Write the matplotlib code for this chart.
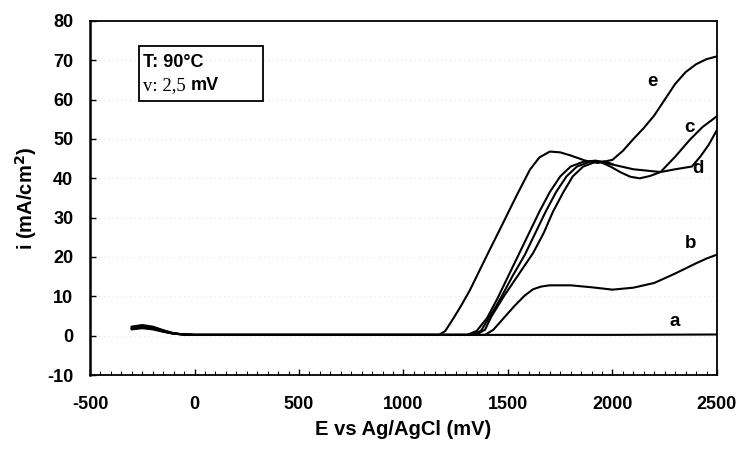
import matplotlib
matplotlib.use("Agg")
import matplotlib.pyplot as plt
from matplotlib.patches import Rectangle
from matplotlib.ticker import MultipleLocator

plt.rcParams["axes.unicode_minus"] = False

# potential (mV vs Ag/AgCl) and current density (mA/cm2)
E_a = [-300, -250, -200, -150, -100, -50, 0, 500, 1000, 1500, 2000, 2500]
i_a = [1.6, 1.9, 1.6, 1.0, 0.5, 0.3, 0.2, 0.2, 0.2, 0.2, 0.2, 0.3]

E_b = [-300, -250, -200, -150, -100, -50, 0, 1000, 1390, 1430, 1480, 1530, 1580,
       1620, 1660, 1700, 1800, 1900, 2000, 2100, 2200, 2300, 2400, 2450, 2500]
i_b = [2.3, 2.7, 2.3, 1.4, 0.6, 0.3, 0.2, 0.2, 0.2, 1.5, 4.5, 7.5, 10.2,
       11.8, 12.5, 12.8, 12.8, 12.3, 11.7, 12.2, 13.4, 15.8, 18.4, 19.6, 20.6]

E_c = [-300, -250, -200, -150, -100, -50, 0, 1000, 1305, 1350, 1400, 1450, 1500,
       1550, 1600, 1650, 1700, 1750, 1800, 1860, 1920, 2000, 2100, 2230, 2300,
       2370, 2430, 2500]
i_c = [1.9, 2.3, 1.9, 1.2, 0.6, 0.3, 0.2, 0.2, 0.2, 1.2, 4.5, 9.5, 15,
       20.5, 26, 31.5, 36.5, 40.5, 43, 44.2, 44.5, 43.5, 42.3, 41.6, 45.5,
       49.8, 53, 55.8]

E_d = [-300, -250, -200, -150, -100, -50, 0, 1000, 1325, 1370, 1415, 1470, 1520,
       1580, 1630, 1680, 1730, 1780, 1830, 1890, 1940, 1990, 2040, 2085, 2130,
       2180, 2230, 2300, 2380, 2420, 2460, 2500]
i_d = [1.7, 2.1, 1.8, 1.1, 0.5, 0.3, 0.2, 0.2, 0.2, 1.2, 5, 10, 15,
       20.5, 26, 31.5, 36.5, 40.5, 43, 44.2, 44.2, 43, 41.5, 40.4, 40,
       40.6, 41.6, 42.3, 43, 45.5, 48.5, 52.3]

# third parallel trace (no label in the original), merges with c near 2000 mV
E_f = [-300, -250, -200, -150, -100, -50, 0, 1000, 1345, 1390, 1420, 1480, 1550,
       1620, 1670, 1715, 1765, 1810, 1860, 1920, 1960, 2000]
i_f = [2.1, 2.5, 2.1, 1.3, 0.6, 0.3, 0.2, 0.2, 0.2, 1.5, 4.8, 10, 15.5,
       21, 26, 31.5, 36.5, 40.5, 43, 44.2, 44.3, 43.6]

E_e = [-300, -250, -200, -150, -100, -50, 0, 1000, 1170, 1200, 1240, 1280, 1318,
       1400, 1476, 1540, 1605, 1650, 1700, 1750, 1800, 1870, 1930, 2000, 2050,
       2100, 2150, 2200, 2250, 2300, 2350, 2400, 2450, 2500]
i_e = [1.8, 2.2, 1.8, 1.1, 0.5, 0.3, 0.2, 0.2, 0.2, 1.2, 4.5, 8, 11.6,
       20.5, 28.6, 35.5, 42.2, 45.3, 46.8, 46.6, 45.8, 44.5, 43.9, 44.7, 47,
       50, 52.8, 56, 60, 64, 67, 69, 70.3, 71]

CURVE_LABELS = {"e": (2190, 64.5), "c": (2370, 53), "d": (2410, 42.6),
                "b": (2375, 23.5), "a": (2297, 3.5)}

X_TICKS = [-500, 0, 500, 1000, 1500, 2000, 2500]
Y_TICKS = [-10, 0, 10, 20, 30, 40, 50, 60, 70, 80]

SANS = "Liberation Sans"
SERIF = "Liberation Serif"

fig = plt.figure(figsize=(7.42, 4.51), dpi=100)
ax = fig.add_axes([0.1213, 0.1685, 0.845, 0.785])

for E, i in [(E_a, i_a), (E_b, i_b), (E_c, i_c), (E_d, i_d), (E_f, i_f), (E_e, i_e)]:
    ax.plot(E, i, color="black", lw=1.5, solid_joinstyle="round")

ax.set_xlim(-500, 2500)
ax.set_ylim(-10, 80)
ax.set_xticks(X_TICKS)
ax.set_yticks(Y_TICKS)
ax.xaxis.set_minor_locator(MultipleLocator(50))
ax.tick_params(axis="both", which="major", direction="in", length=4, width=1,
               labelsize=13)
ax.tick_params(axis="x", which="major", pad=15)
ax.tick_params(axis="y", which="major", pad=12)
ax.tick_params(axis="x", which="minor", direction="in", length=3, width=0.8)
for lab in ax.get_xticklabels() + ax.get_yticklabels():
    lab.set_fontfamily(SANS)
    lab.set_fontweight("bold")

for s in ax.spines.values():
    s.set_linewidth(1.3)
ax.spines["left"].set_linewidth(1.8)

ax.yaxis.grid(True, color="#e2e2e2", linestyle=(0, (1, 3)), linewidth=0.8)
ax.set_axisbelow(True)

ax.set_xlabel("E vs Ag/AgCl (mV)", fontfamily=SANS, fontweight="bold",
              fontsize=14.5, labelpad=5)
ax.set_ylabel("i (mA/cm$^\\mathbf{2}$)", fontfamily=SANS, fontweight="bold",
              fontsize=14.5, labelpad=6)

for k, (x, y) in CURVE_LABELS.items():
    ax.text(x, y, k, fontfamily=SANS, fontweight="bold", fontsize=13.5,
            ha="center", va="center")

ax.add_patch(Rectangle((0.078, 0.774), 0.198, 0.155, transform=ax.transAxes,
                       fill=False, edgecolor="black", lw=1.3))
ax.text(0.085, 0.882, "T: 90°C", transform=ax.transAxes, fontfamily=SANS,
        fontweight="bold", fontsize=13, va="center")
t = ax.text(0.085, 0.818, "v: 2,5 ", transform=ax.transAxes, fontfamily=SERIF,
            fontsize=13.5, va="center")
ax.annotate("mV", xycoords=t, xy=(1, 0.5), va="center", fontfamily=SANS,
            fontweight="bold", fontsize=13)

fig.savefig("out.png", dpi=100)
